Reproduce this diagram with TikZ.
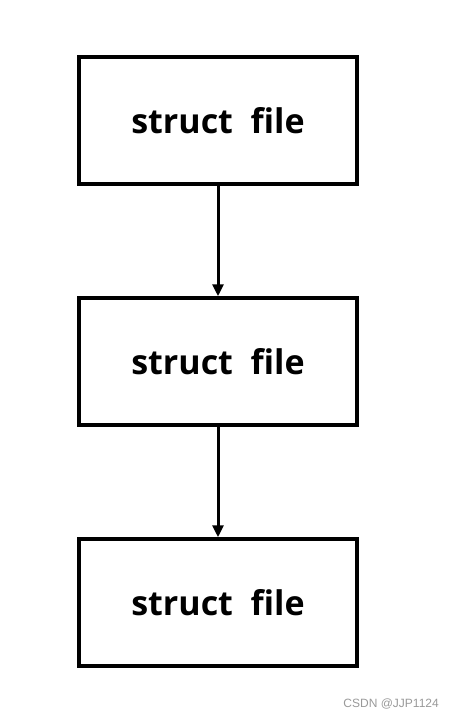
\documentclass[tikz,border=0pt]{standalone}
\usepackage{fontspec}
\setmainfont{Open Sans}
\newfontfamily\wmfont{Liberation Sans}
\usetikzlibrary{arrows.meta}
\begin{document}
\begin{tikzpicture}[x=1bp,y=-1bp,
  fbox/.style={draw=black,line width=3.5bp,minimum width=278bp,minimum height=127bp,inner sep=0pt,
    font=\fontsize{34bp}{38bp}\selectfont\bfseries},
  link/.style={line width=3bp,-{Triangle[length=12bp,width=11bp]}}]
\useasboundingbox (0,0) rectangle (454,717);
\node[fbox] (a) at (218,120.5) {struct\ \ file};
\node[fbox] (b) at (218,361.5) {struct\ \ file};
\node[fbox] (c) at (218,602.5) {struct\ \ file};
\draw[link] (a.south) -- (b.north);
\draw[link] (b.south) -- (c.north);
\node[anchor=base east,text=black!40,font=\wmfont\fontsize{12bp}{14bp}\selectfont,inner sep=0pt] (wm) at (439,707) {CSDN @JJP1124};
\end{tikzpicture}
\end{document}
